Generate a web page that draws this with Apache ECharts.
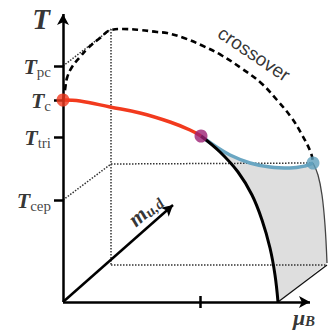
<!DOCTYPE html>
<html>
<head>
<meta charset="utf-8">
<script src="https://cdn.jsdelivr.net/npm/echarts@6/dist/echarts.min.js"></script>
<style>
  html, body { margin: 0; padding: 0; background: #fff; }
  #chart { width: 328px; height: 332px; }
</style>
</head>
<body>
<div id="chart"></div>
<script>
// schematic units: origin of the T / mu_B axes at (0, 0)
const tAxisTop = 288;
const muAxisEnd = 247;
const massArrowEnd = [110, 97];
const muTick = 137;

// levels on the T axis
const tLevels = [236, 202, 165, 102];
const tSubs = ['pc', 'c', 'tri', 'cep'];

// back plane of the box (depth offset of the m_ud direction)
const depth = [48, 37];
const backTop = 273;
const cepBack = 138;
const blueEnd = [250, 139];
const boxRight = 264;

// curves
const redLine = [[0, 202], [17, 201], [47, 195], [77, 189], [107, 180], [127, 172], [138, 166]];
const blueLine = [[138, 166], [152, 156], [167, 147], [187, 139], [207, 135], [227, 134], [242, 136], [250, 139]];
const blackLine = [[138, 166], [157, 150], [175, 130], [189, 107], [199, 82], [207, 54], [212, 27], [215, 0]];
const rightEdge = [[250, 139], [255, 127], [259, 107], [262, 77], [264, 39]];
const crossover = [[0, 202], [2, 212], [4, 224], [9, 235], [17, 245], [25, 254], [37, 264], [48, 272],
  [60, 273], [77, 272], [94, 270], [104, 269], [121, 264], [138, 257], [158, 247], [178, 234],
  [198, 219], [214, 202], [228, 185], [238, 169], [248, 149], [250, 139]];

const chart = echarts.init(document.getElementById('chart'), null, { renderer: 'svg' });

const serif = 'Liberation Serif';
const dotted = { color: '#333', width: 1.5, type: [1.5, 1.5] };
const plain = (data, style, z) => ({
  type: 'line', data: data, showSymbol: false, smooth: false, silent: true,
  lineStyle: style, z: z || 2, animation: false,
});
const curve = (data, style, z) => Object.assign(plain(data, style, z), { smooth: 0.4 });

const polygon = blueLine.concat(rightEdge.slice(1), [[blackLine[blackLine.length - 1][0], 0]], blackLine.slice().reverse());

const tLabel = (sub) => '{t|T}{s|' + sub + '}';

const option = {
  animation: false,
  backgroundColor: '#fff',
  grid: { left: 0, right: 0, top: 0, bottom: 0 },
  xAxis: { type: 'value', min: -63, max: 265, show: false },
  yAxis: { type: 'value', min: -30, max: 302, show: false },
  series: [
    {
      type: 'custom', silent: true, z: 1,
      data: [[0, 0]],
      renderItem: (params, api) => ({
        type: 'polygon',
        shape: { points: polygon.map((p) => api.coord(p)) },
        style: { fill: '#dedede' },
      }),
    },
    // dotted box
    plain([[0, tLevels[0]], [depth[0], backTop]], dotted),
    plain([[depth[0], backTop], [depth[0], depth[1]]], dotted),
    plain([[depth[0], depth[1]], [boxRight, depth[1]]], dotted),
    plain([[0, tLevels[3]], [depth[0], cepBack]], dotted),
    plain([[depth[0], cepBack], blueEnd], dotted),
    // edges of the shaded sheet
    curve(rightEdge, { color: '#444', width: 1.3 }),
    plain([[blackLine[blackLine.length - 1][0], 0], [boxRight, depth[1]]], { color: '#111', width: 1.3 }),
    // curves
    curve(crossover, { color: '#000', width: 2.6, type: [6, 4] }, 3),
    curve(redLine, { color: '#f23a1e', width: 3.5 }, 4),
    curve(blueLine, { color: '#6aa6c2', width: 3.5 }, 4),
    curve(blackLine, { color: '#000', width: 3 }, 4),
    // axes and arrows
    {
      type: 'line', data: [], silent: true, z: 5,
      markLine: {
        silent: true, animation: false,
        symbol: ['none', 'arrow'], symbolSize: [9, 11],
        label: { show: false },
        lineStyle: { color: '#000', width: 2.5, type: 'solid' },
        data: [
          [{ coord: [0, 0] }, { coord: [0, tAxisTop] }],
          [{ coord: [0, 0] }, { coord: [muAxisEnd, 0] }],
          [{ coord: [0, 0] }, { coord: massArrowEnd }],
        ],
      },
    },
    {
      type: 'line', data: [], silent: true, z: 5,
      markLine: {
        silent: true, animation: false,
        symbol: ['none', 'none'],
        label: { show: false },
        lineStyle: { color: '#000', width: 2.5, type: 'solid' },
        data: tLevels.map((v) => [{ coord: [-9, v] }, { coord: [0, v] }])
          .concat([[{ coord: [muTick, -6] }, { coord: [muTick, 6] }]]),
      },
    },
    // points
    {
      type: 'scatter', symbolSize: 13, z: 6, silent: true,
      data: [
        { value: redLine[0], itemStyle: { color: '#f23a1e' } },
        { value: blackLine[0], itemStyle: { color: '#9c1f74' } },
        { value: blueEnd, itemStyle: { color: '#5e9fbc' } },
      ],
    },
    // texts
    {
      type: 'scatter', symbolSize: 0, z: 7, silent: true,
      data: tLevels.map((v, i) => ({ value: [-12, v], sub: tSubs[i] })),
      label: {
        show: true, position: 'left', distance: 0,
        formatter: (p) => tLabel(p.data.sub),
        rich: {
          t: { fontFamily: serif, fontStyle: 'italic', fontWeight: 'bold', fontSize: 22, color: '#000' },
          s: { fontFamily: serif, fontSize: 15, color: '#111', padding: [11, 0, 0, 0] },
        },
      },
    },
    {
      type: 'scatter', symbolSize: 0, z: 7, silent: true,
      data: [
        { value: [-22, 283], label: { formatter: 'T', fontFamily: serif, fontStyle: 'italic', fontWeight: 'bold', fontSize: 29 } },
        { value: [191, 248], label: { formatter: 'crossover', fontFamily: 'Liberation Sans', fontSize: 19, rotate: -34 } },
        {
          value: [82, 92],
          label: {
            formatter: '{m|m}{s|u,d}', rotate: 41,
            rich: {
              m: { fontFamily: serif, fontStyle: 'italic', fontWeight: 'bold', fontSize: 22, color: '#000' },
              s: { fontFamily: serif, fontStyle: 'italic', fontWeight: 'bold', fontSize: 15, color: '#000', padding: [9, 0, 0, 0] },
            },
          },
        },
        {
          value: [241, -15],
          label: {
            formatter: '{m|μ}{s|B}',
            rich: {
              m: { fontFamily: serif, fontStyle: 'italic', fontWeight: 'bold', fontSize: 22, color: '#000' },
              s: { fontFamily: serif, fontStyle: 'italic', fontWeight: 'bold', fontSize: 15, color: '#000', padding: [7, 0, 0, 0] },
            },
          },
        },
      ],
      label: { show: true, position: 'inside', color: '#000' },
    },
  ],
};

chart.setOption(option);
</script>
</body>
</html>
